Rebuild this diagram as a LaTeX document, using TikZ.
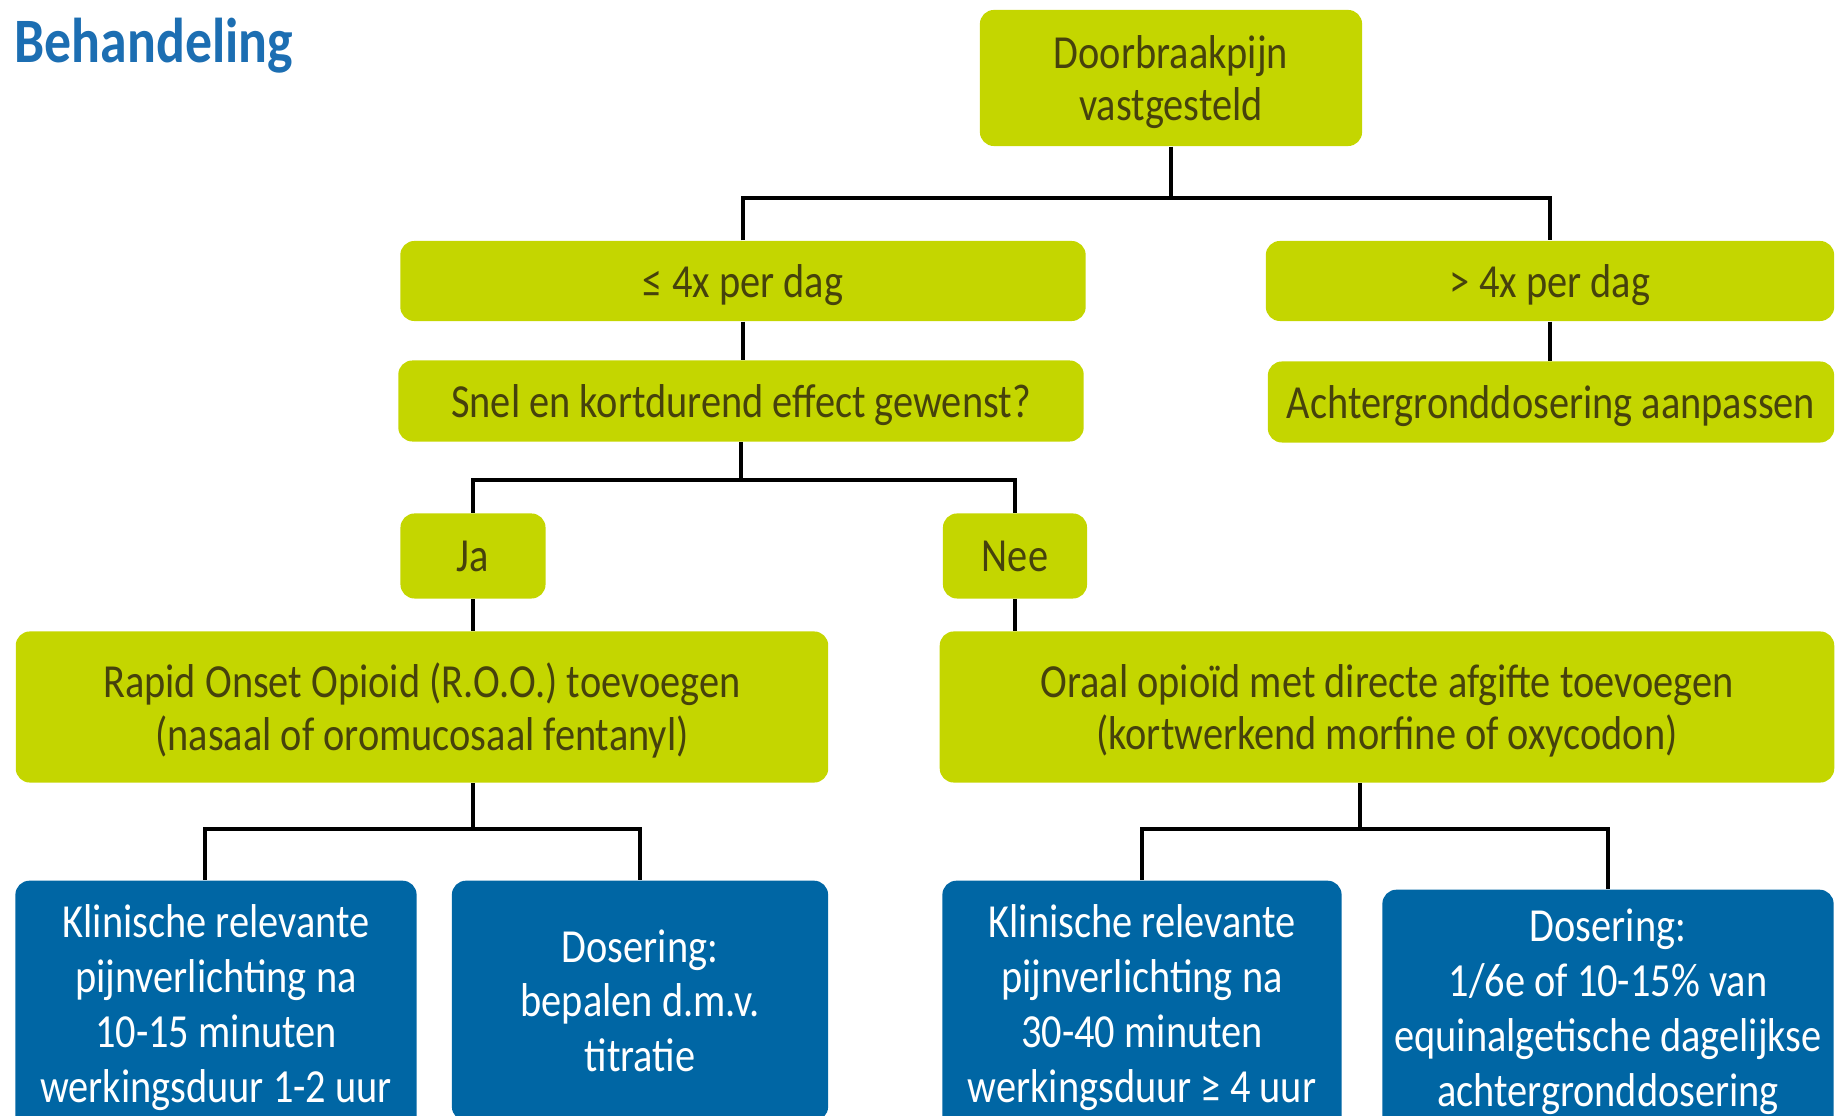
\documentclass[tikz,border=0pt]{standalone}
\usepackage{fontspec}
\setmainfont{Carlito}[FakeStretch=0.85]
\usepackage{xcolor}
\usetikzlibrary{positioning}
\definecolor{lime}{RGB}{196,214,0}
\definecolor{steel}{RGB}{0,102,164}
\definecolor{olivetext}{RGB}{70,66,12}
\definecolor{titleblue}{RGB}{28,110,178}

\begin{document}
\begin{tikzpicture}[x=0.01cm, y=-0.01cm,
    limebox/.style={fill=lime, rounded corners=4pt, inner sep=0pt, text depth=0pt, align=center, text=olivetext, font=\fontsize{13.5}{15}\selectfont},
    bluebox/.style={fill=steel, rounded corners=4pt, inner sep=0pt, anchor=north, minimum height=2.54cm, align=center, text=white, font=\fontsize{13.5}{15.6}\selectfont},
    conn/.style={line width=1.1pt}
]
\useasboundingbox (0,0) rectangle (1841,1116);
\clip (0,0) rectangle (1841,1116);

\node[anchor=base west, inner sep=0pt, text=titleblue, font=\fontsize{18}{20}\selectfont\bfseries] (titel) at (14,63) {Behandeling};

\node[limebox, minimum width=3.82cm, minimum height=1.36cm] (vast) at (1171,78) {Doorbraakpijn\\vastgesteld};
\node[limebox, minimum width=6.85cm, minimum height=0.8cm] (weinig) at (743,281) {≤ 4x per dag};
\node[limebox, minimum width=5.68cm, minimum height=0.8cm] (vaak) at (1550,281) {> 4x per dag};
\node[limebox, minimum width=6.85cm, minimum height=0.81cm] (snel) at (741,401) {Snel en kortdurend effect gewenst?};
\node[limebox, minimum width=5.66cm, minimum height=0.81cm] (aanpas) at (1551,402) {Achtergronddosering aanpassen};
\node[limebox, minimum width=1.45cm, minimum height=0.85cm] (ja) at (473,556) {Ja};
\node[limebox, minimum width=1.44cm, minimum height=0.85cm] (nee) at (1015,556) {Nee};
\node[limebox, minimum width=8.12cm, minimum height=1.51cm] (roo) at (422,707) {Rapid Onset Opioid (R.O.O.) toevoegen\\(nasaal of oromucosaal fentanyl)};
\node[limebox, minimum width=8.94cm, minimum height=1.51cm] (oraal) at (1387,707) {Oraal opioïd met directe afgifte toevoegen\\(kortwerkend morfine of oxycodon)};

\node[bluebox, minimum width=4.01cm] (snelwerk) at (216,880) {Klinische relevante\\pijnverlichting na\\10-15 minuten\\werkingsduur 1-2 uur};
\node[bluebox, minimum width=3.76cm, minimum height=2.4cm] (titr) at (640,880) {Dosering:\\bepalen d.m.v.\\titratie};
\node[bluebox, minimum width=3.99cm] (traag) at (1142,880) {Klinische relevante\\pijnverlichting na\\30-40 minuten\\werkingsduur ≥ 4 uur};
\node[bluebox, minimum width=4.51cm, minimum height=2.44cm] (dosis) at (1608,889) {Dosering:\\1/6e of 10-15\% van\\equinalgetische dagelijkse\\achtergronddosering};

\draw[conn] (vast.south) -- ++(0,51) coordinate (splitA);
\draw[conn] (weinig.north) |- (splitA) -| (vaak.north);
\draw[conn] (weinig.south) -- (weinig.south |- snel.north);
\draw[conn] (vaak.south) -- (vaak.south |- aanpas.north);
\draw[conn] (snel.south) -- ++(0,38) coordinate (splitB);
\draw[conn] (ja.north) |- (splitB) -| (nee.north);
\draw[conn] (ja.south) -- (ja.south |- roo.north);
\draw[conn] (nee.south) -- (nee.south |- oraal.north);
\draw[conn] (ja.south |- roo.south) -- ++(0,46) coordinate (splitC);
\draw[conn] ([xshift=-0.11cm]snelwerk.north) |- (splitC) -| (titr.north);
\draw[conn] ([xshift=-0.27cm]oraal.south) -- ++(0,46) coordinate (splitD);
\draw[conn] (traag.north) |- (splitD) -| (dosis.north);
\end{tikzpicture}
\end{document}
